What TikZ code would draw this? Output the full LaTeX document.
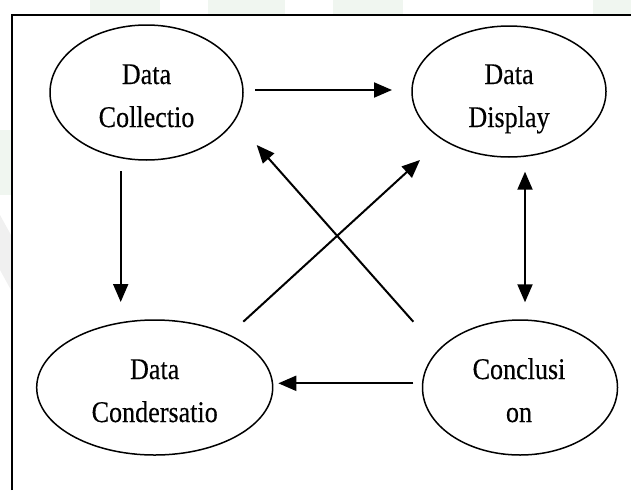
\documentclass[tikz,border=0pt]{standalone}
\usepackage{fontspec}
\setmainfont[FakeBold=0.3,FakeStretch=0.87]{Liberation Serif}
\usetikzlibrary{shapes.geometric,arrows.meta}
\begin{document}
\begin{tikzpicture}[x=1pt,y=-1pt,
  ell/.style={draw,ellipse,line width=1.5pt,inner sep=0pt},
  txt/.style={anchor=base,inner sep=0pt,font=\fontsize{30pt}{32pt}\selectfont},
  arr/.style={line width=2pt,-{Triangle[length=18pt,width=15pt]}},
  darr/.style={line width=2pt,{Triangle[length=18pt,width=15pt]}-{Triangle[length=18pt,width=15pt]}},
  wm/.style={fill=green!40!black!6,draw=none}]
\useasboundingbox (0,0) rectangle (631,490);
% faint background marks outside the frame
\fill[wm] (90,0) rectangle (160,14);
\fill[wm] (208,0) rectangle (285,14);
\fill[wm] (333,0) rectangle (403,14);
\fill[wm] (593,0) rectangle (631,14);
\fill[wm] (0,130) rectangle (11,195);
\fill[black!6] (0,215) -- (11,235) -- (11,290) -- (0,270) -- cycle;
% frame
\draw[line width=1.5pt] (12,490) -- (12,15) -- (631,15);
% ellipses
\node[ell,minimum width=193pt,minimum height=135pt] (dc) at (146.5,92.5) {};
\node[ell,minimum width=194pt,minimum height=131pt] (dd) at (509,91.5) {};
\node[ell,minimum width=236pt,minimum height=135pt] (dn) at (154.7,387.5) {};
\node[ell,minimum width=195pt,minimum height=135pt] (cc) at (520,387.5) {};
% texts
\node[txt] (t1) at (146.5,84) {Data};
\node[txt] (t2) at (146.5,127) {Collectio};
\node[txt] (t3) at (509,84) {Data};
\node[txt] (t4) at (509,127) {Display};
\node[txt] (t5) at (154.7,379) {Data};
\node[txt] (t6) at (154.7,422) {Condersatio};
\node[txt] (t7) at (519,379) {Conclusi};
\node[txt] (t8) at (519,422) {on};
% connector end points
\coordinate (a1) at (255,90);   \coordinate (a2) at (392,90);
\coordinate (b1) at (120.7,171); \coordinate (b2) at (120.7,302);
\coordinate (c1) at (243.3,321.7); \coordinate (c2) at (420,160);
\coordinate (d1) at (413.3,321.7); \coordinate (d2) at (256.7,145);
\coordinate (e1) at (525,171.7); \coordinate (e2) at (525,302.3);
\coordinate (f1) at (413.3,383.3); \coordinate (f2) at (278.3,383.3);
% connectors
\draw[arr] (a1) -- (a2);
\draw[arr] (b1) -- (b2);
\draw[arr] (c1) -- (c2);
\draw[arr] (d1) -- (d2);
\draw[darr] (e1) -- (e2);
\draw[arr] (f1) -- (f2);
\end{tikzpicture}
\end{document}
